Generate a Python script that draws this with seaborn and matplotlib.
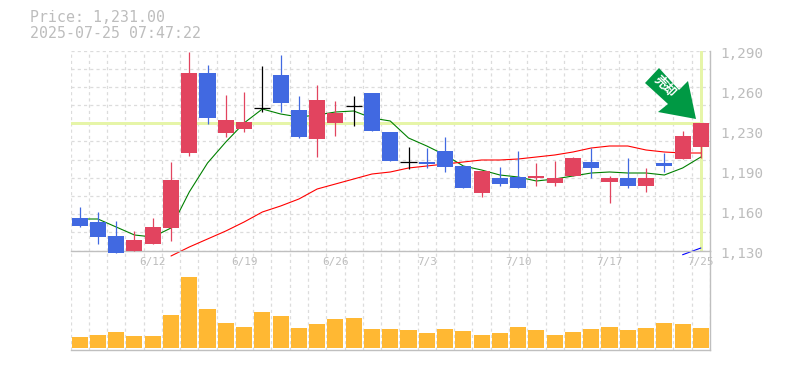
#!/usr/bin/python

import matplotlib
matplotlib.use("Agg")
import numpy as np
import pandas as pd
import seaborn as sns
import matplotlib.pyplot as plt
from matplotlib.patches import Polygon
from matplotlib.ticker import NullFormatter

W, H = 785, 370

# 35 sessions, ticks every 5 from the 5th
date_ticks = [4, 9, 14, 19, 24, 29, 34]
date_labels = ["6/12", "6/19", "6/26", "7/3", "7/10", "7/17", "7/25"]
price_ticks = [1130, 1162, 1194, 1226, 1258, 1290]
price_labels = ["1,130", "1,160", "1,190", "1,230", "1,260", "1,290"]

opens = [1156, 1152.8, 1141.6, 1129.6, 1135.2, 1148, 1208, 1272, 1224, 1227.2, 1243.8, 1270.4,
         1242.4, 1219.2, 1232, 1245.4, 1256, 1224.8, 1200.6, 1200.8, 1209.6, 1197.6, 1176, 1188,
         1188.8, 1188, 1184, 1189.6, 1200.8, 1184.8, 1188, 1181.6, 1200, 1203.2, 1212.8]
closes = [1149.6, 1140.8, 1128, 1138.4, 1148.8, 1186.4, 1272, 1236, 1234.4, 1232.8, 1243.8, 1248,
          1220.8, 1250.4, 1240, 1245.4, 1225.6, 1201.6, 1200.6, 1199.2, 1196.8, 1180, 1193.6, 1183.2,
          1180, 1189.6, 1188, 1204, 1196, 1188, 1181.6, 1188, 1197.6, 1221.6, 1232]
highs = [1164.8, 1160.8, 1153.6, 1145.6, 1156, 1200.8, 1288.8, 1278.4, 1254.4, 1256.8, 1277.6, 1286.4,
         1253.6, 1262.4, 1249.6, 1253.6, 1256, 1224.8, 1212.8, 1212, 1220.8, 1197.6, 1193.6, 1196.8,
         1209.6, 1200, 1201.6, 1204.8, 1212, 1189.6, 1204, 1196, 1208, 1225.6, 1232]
lows = [1148.8, 1135.2, 1128, 1129.6, 1135.2, 1137.6, 1205.6, 1231.2, 1220.8, 1224.8, 1240.8, 1240.8,
        1220, 1204.8, 1221.6, 1229.6, 1225.6, 1201.6, 1195.2, 1196, 1192.8, 1180, 1172.8, 1181.6,
        1180, 1181.6, 1181.6, 1189.6, 1188, 1168, 1180, 1176.8, 1192.8, 1203.2, 1204]
volumes = [11, 13, 16, 12, 12, 33, 71, 39, 25, 21, 36, 32, 20, 24, 29, 30, 19, 19,
           18, 15, 19, 17, 13, 15, 21, 18, 13, 16, 19, 21, 18, 20, 25, 24, 20]

ma_short = [1155.2, 1155.2, 1148.8, 1142.4, 1140.8, 1148, 1176.8, 1200, 1216.8, 1232, 1243.2, 1239.2,
            1236.8, 1238.4, 1240.8, 1241.6, 1236, 1233.6, 1220, 1213.6, 1206.4, 1197.6, 1194.4, 1190.4,
            1188.8, 1185.6, 1187.2, 1189.6, 1192, 1192.8, 1192, 1192, 1190.4, 1196, 1204.8]
ma_mid_start = 5
ma_mid = [1125.6, 1132.8, 1139.2, 1145.6, 1152.8, 1160.8, 1165.6, 1171.2, 1179.2, 1183.2, 1187.2,
          1191.2, 1192.8, 1196, 1197.6, 1199.2, 1200.8, 1202.4, 1202.4, 1203.2, 1204.8, 1206.4,
          1208.8, 1212, 1213.6, 1213.6, 1210.4, 1208.8, 1208, 1208]
ma_long_start = 33
ma_long = [1126.6, 1132]
last_price = 1232

GRID = "#dcdcdc"
TEXT = "#bdbdbd"
AXIS = "#bfbfbf"
UP = "#e2445f"
DOWN = "#4169e1"
HILITE = "#e6f5a8"
VOL = "#ffb833"


def px_axes(fig, left, top, right, bottom):
    return fig.add_axes([left / W, 1 - bottom / H, (right - left) / W, (bottom - top) / H])


def style_axes(ax):
    ax.set_xlim(-0.5, 34.5)
    ax.set_xticks(np.arange(-0.5, 35.5))
    ax.xaxis.set_major_formatter(NullFormatter())
    ax.tick_params(length=0)
    ax.grid(axis="x", color=GRID, linestyle=(0, (2.5, 2.5)), linewidth=0.9)
    ax.set_axisbelow(True)
    ax.set_xlabel("")
    ax.set_ylabel("")
    for s in ["left", "top"]:
        ax.spines[s].set_visible(False)
    for s in ["right", "bottom"]:
        ax.spines[s].set_visible(True)
        ax.spines[s].set_color(AXIS)
        ax.spines[s].set_linewidth(1.0)


def plot_price(ax):
    x = np.arange(len(closes))
    ax.axhline(last_price, xmax=(34 + 0.55) / 35, color=HILITE, linewidth=2.16, zorder=1)
    ax.axvline(34, color=HILITE, linewidth=2.16, zorder=1)

    for start, vals, col in [(0, ma_short, "green"), (ma_mid_start, ma_mid, "red"),
                             (ma_long_start, ma_long, "blue")]:
        df = pd.DataFrame({"x": x[start:], "y": vals})
        sns.lineplot(data=df, x="x", y="y", ax=ax, color=col, linewidth=0.8, zorder=2,
                     clip_on=False)

    o, c, h, l = map(np.array, (opens, closes, highs, lows))
    colors = [UP if b > a else DOWN if b < a else "black" for a, b in zip(o, c)]
    ax.vlines(x, l, h, colors=colors, linewidth=0.9, zorder=3, clip_on=False)
    solid = o != c
    ax.bar(x[solid], np.abs(c - o)[solid], bottom=np.minimum(o, c)[solid], width=0.88,
           color=np.array(colors)[solid], linewidth=0, zorder=4, clip_on=False)
    ax.hlines(c[~solid], x[~solid] - 0.44, x[~solid] + 0.44, colors="black", linewidth=0.9,
              zorder=4)

    ax.set_ylim(1130, 1290)
    ax.set_yticks(np.linspace(1130, 1290, 12))
    ax.yaxis.set_major_formatter(NullFormatter())
    ax.grid(axis="y", color=GRID, linestyle=(0, (2.5, 2.5)), linewidth=0.9)
    style_axes(ax)
    ax.set_ylabel("")

    label_tf = ax.get_yaxis_transform()
    for v, s in zip(price_ticks, price_labels):
        ax.annotate(s, (1.0, v), xycoords=label_tf, xytext=(7.6, -2.5), textcoords="offset points",
                    color=TEXT, fontsize=10.3, family="DejaVu Sans Mono", va="center", ha="left",
                    annotation_clip=False)
    date_tf = ax.get_xaxis_transform()
    for i, s in zip(date_ticks, date_labels):
        ax.text(i, -0.055, s, transform=date_tf, color=TEXT, fontsize=7.9,
                family="DejaVu Sans Mono", va="center", ha="center", clip_on=False)


def plot_volume(ax):
    df = pd.DataFrame({"x": np.arange(len(volumes)), "v": volumes})
    sns.barplot(data=df, x="x", y="v", ax=ax, color=VOL, saturation=1, width=0.88,
                linewidth=0, native_scale=True)
    ax.set_ylim(-2, 97.5)
    ax.set_yticks([])
    style_axes(ax)


def draw_arrow(fig):
    # sell marker, placed in picture pixels
    pts = [(659, 68), (645, 83), (668, 104), (658, 112), (696, 119), (688, 81), (679, 90)]
    fig.add_artist(Polygon([(a / W, 1 - b / H) for a, b in pts], closed=True, color="#009944",
                           linewidth=0, transform=fig.transFigure, zorder=10))
    fig.text(664.5 / W, 1 - 87 / H, "売却", color="white", fontsize=9, rotation=-45,
             rotation_mode="anchor", family=["Noto Sans CJK JP", "DejaVu Sans"], weight="bold",
             ha="center", va="center", zorder=11)


def main():
    sns.set_theme()
    sns.set_style("white")
    fig = plt.figure(figsize=(W / 100, H / 100), dpi=100, facecolor="white")
    ax_price = px_axes(fig, 70.5, 50.5, 710, 250.5)
    ax_vol = px_axes(fig, 70.5, 250.5, 710, 350)
    for ax in (ax_price, ax_vol):
        ax.patch.set_alpha(0)

    plot_volume(ax_vol)
    plot_price(ax_price)
    ax_price.set_zorder(3)

    fig.text(30 / W, 1 - 18 / H, "Price: 1,231.00", color=TEXT, fontsize=10.7,
             family="DejaVu Sans Mono", va="center")
    fig.text(30 / W, 1 - 33 / H, "2025-07-25 07:47:22", color=TEXT, fontsize=10.7,
             family="DejaVu Sans Mono", va="center")
    draw_arrow(fig)
    fig.savefig("out.png", dpi=100)


if __name__ == "__main__":
    main()
